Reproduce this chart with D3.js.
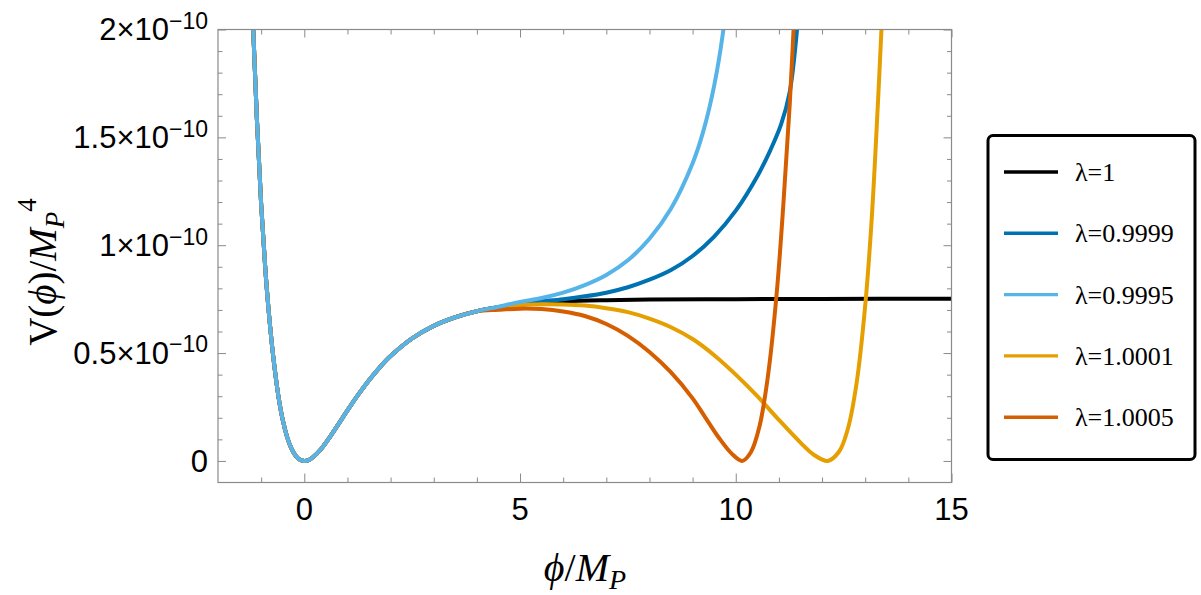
<!DOCTYPE html>
<html>
<head>
<meta charset="utf-8">
<script src="https://cdn.jsdelivr.net/npm/d3@7"></script>
<style>
    body {margin: 0; background: #fff;}
    .tick-label {font-family: 'Liberation Sans', Arial, sans-serif; fill: #000;}
    .serif {font-family: 'Liberation Serif', 'Times New Roman', serif; fill: #000;}
</style>
</head>
<body>
<svg id="chart" width="1201" height="595"></svg>
<script>
// V(phi) in units of 1e-10 M_P^4, phi in units of M_P

const xDomain = [-2, 15];
const yDomain = [-0.1, 2];
const xMajor = [0, 5, 10, 15];
const xMinor = [-1, 1, 2, 3, 4, 6, 7, 8, 9, 11, 12, 13, 14];
const yMajor = [0, 0.5, 1, 1.5, 2];
const yMajorLabels = ['0', '0.5', '1', '1.5', '2'];
const yMinor = [0.1, 0.2, 0.3, 0.4, 0.6, 0.7, 0.8, 0.9, 1.1, 1.2, 1.3, 1.4, 1.6, 1.7, 1.8, 1.9];

const seriesNames = ['λ=1', 'λ=0.9999', 'λ=0.9995', 'λ=1.0001', 'λ=1.0005'];
const seriesColors = ['#000000', '#0072B2', '#56B4E9', '#E69F00', '#D55E00'];

// the well around phi = 0 is the same for every lambda
const basePhi = [-1.3, -1.2, -1.1, -1.0, -0.9, -0.8, -0.7, -0.6, -0.5, -0.4, -0.3, -0.2, -0.1, 0,
    0.1, 0.2, 0.4, 0.6, 0.8, 1.0, 1.25, 1.5, 1.75, 2.0, 2.5, 3.0, 3.5, 4.0];
const baseV = [2.68, 2.08, 1.59, 1.19, 0.88, 0.64, 0.45, 0.30, 0.19, 0.112, 0.058, 0.024, 0.005, 0,
    0.004, 0.017, 0.058, 0.113, 0.173, 0.234, 0.307, 0.374, 0.434, 0.486, 0.568, 0.626, 0.666, 0.694];

// past phi ~ 4 the curves split
const phi1 = [4.5, 5, 6, 7, 8, 10, 12, 15];
const v1 = [0.712, 0.725, 0.739, 0.745, 0.748, 0.75, 0.751, 0.752];

const phi9999 = [4.5, 5, 5.5, 6, 6.5, 7, 7.5, 8, 8.5, 9, 9.5, 10, 10.5, 10.8, 11.05, 11.25, 11.42, 11.55];
const v9999 = [0.713, 0.73, 0.74, 0.75, 0.763, 0.78, 0.805, 0.84, 0.885, 0.95, 1.04, 1.16, 1.32, 1.44, 1.56, 1.71, 2.0, 2.35];

const phi9995 = [4.5, 5, 5.5, 6, 6.5, 7, 7.5, 8, 8.5, 9, 9.25, 9.5, 9.7, 9.85];
const v9995 = [0.715, 0.737, 0.755, 0.78, 0.815, 0.862, 0.93, 1.03, 1.17, 1.38, 1.53, 1.74, 1.98, 2.25];

const phi10001 = [4.5, 5, 5.5, 6, 6.5, 7, 7.5, 8, 8.5, 9, 9.5, 10, 10.5, 11, 11.5, 11.8, 12.13, 12.4, 12.6, 12.8, 13.0, 13.15, 13.3, 13.4];
const v10001 = [0.711, 0.722, 0.726, 0.725, 0.72, 0.708, 0.69, 0.66, 0.62, 0.565, 0.49, 0.4, 0.3, 0.19, 0.085, 0.03, 0, 0.045, 0.15, 0.36, 0.72, 1.12, 1.68, 2.1];

const phi10005 = [4.5, 5, 5.5, 6, 6.5, 7, 7.5, 8, 8.5, 9, 9.3, 9.6, 9.9, 10.15, 10.35, 10.55, 10.75, 10.95, 11.1, 11.25, 11.4];
const v10005 = [0.701, 0.706, 0.704, 0.693, 0.672, 0.635, 0.58, 0.505, 0.41, 0.29, 0.2, 0.11, 0.035, 0, 0.04, 0.16, 0.4, 0.78, 1.18, 1.65, 2.25];

const tails = [[phi1, v1], [phi9999, v9999], [phi9995, v9995], [phi10001, v10001], [phi10005, v10005]];

const series = seriesNames.map((name, i) => {
    let [px, pv] = tails[i];
    let pts = basePhi.map((p, j) => [p, baseV[j]])
        .concat(px.map((p, j) => [p, pv[j]]));
    return {name: name, color: seriesColors[i], points: pts};
});

// draw order: light blue ends up on top where all curves overlap
const drawOrder = [0, 1, 3, 4, 2];

const margin = {left: 218, right: 951.5, top: 29.5, bottom: 482.5};

const svg = d3.select('#chart');

const x = d3.scaleLinear().domain(xDomain).range([margin.left, margin.right]);
const y = d3.scaleLinear().domain(yDomain).range([margin.bottom, margin.top]);

svg.append('defs')
    .append('clipPath')
        .attr('id', 'plot-clip')
        .append('rect')
            .attr('x', margin.left)
            .attr('y', margin.top)
            .attr('width', margin.right - margin.left)
            .attr('height', margin.bottom - margin.top);

// curves
const line = d3.line()
    .x(d => x(d[0]))
    .y(d => y(d[1]))
    .curve(d3.curveCatmullRom.alpha(0.5));

svg.append('g')
    .attr('clip-path', 'url(#plot-clip)')
    .selectAll('path')
    .data(drawOrder.map(i => series[i]))
    .enter()
    .append('path')
        .attr('d', d => line(d.points))
        .style('fill', 'none')
        .style('stroke', d => d.color)
        .style('stroke-width', 4)
        .style('stroke-linejoin', 'round');

// frame with inward ticks on all four sides
const frameColor = '#8a8a8a';

function addTicks (axis, transform) {
    let g = svg.append('g')
        .attr('transform', transform)
        .call(axis);
    g.select('.domain').remove();
    g.selectAll('line').style('stroke', frameColor).style('stroke-width', 1);
    g.selectAll('text').remove();
}

addTicks(d3.axisBottom(x).tickValues(xMajor).tickSize(-9), `translate(0, ${margin.bottom})`);
addTicks(d3.axisBottom(x).tickValues(xMinor).tickSize(-5), `translate(0, ${margin.bottom})`);
addTicks(d3.axisTop(x).tickValues(xMajor).tickSize(-8), `translate(0, ${margin.top})`);
addTicks(d3.axisTop(x).tickValues(xMinor).tickSize(-5), `translate(0, ${margin.top})`);
addTicks(d3.axisLeft(y).tickValues(yMajor).tickSize(-8), `translate(${margin.left}, 0)`);
addTicks(d3.axisLeft(y).tickValues(yMinor).tickSize(-4.5), `translate(${margin.left}, 0)`);
addTicks(d3.axisRight(y).tickValues(yMajor).tickSize(-8), `translate(${margin.right}, 0)`);
addTicks(d3.axisRight(y).tickValues(yMinor).tickSize(-4.5), `translate(${margin.right}, 0)`);

svg.append('rect')
    .attr('x', margin.left)
    .attr('y', margin.top)
    .attr('width', margin.right - margin.left)
    .attr('height', margin.bottom - margin.top)
    .style('fill', 'none')
    .style('stroke', frameColor)
    .style('stroke-width', 1.2);

// tick labels
svg.append('g')
    .selectAll('text')
    .data(xMajor)
    .enter()
    .append('text')
        .attr('class', 'tick-label')
        .attr('x', d => x(d))
        .attr('y', margin.bottom + 37)
        .attr('text-anchor', 'middle')
        .style('font-size', '31px')
        .text(d => d);

let yLabels = svg.append('g')
    .selectAll('text')
    .data(yMajor)
    .enter()
    .append('text')
        .attr('class', 'tick-label')
        .attr('x', margin.left - 10)
        .attr('y', d => y(d))
        .attr('dy', '0.35em')
        .attr('text-anchor', 'end')
        .style('font-size', '31px');

yLabels.each(function (d, i) {
    let t = d3.select(this);
    if (d == 0) {
        t.text('0');
        return;
    }
    t.append('tspan').text(yMajorLabels[i] + '×10');
    t.append('tspan')
        .attr('dy', '-0.5em')
        .style('font-size', '23px')
        .text('−10');
});

// axis titles
let yTitle = svg.append('text')
    .attr('class', 'serif')
    .attr('transform', 'translate(56, 272) rotate(-90)')
    .attr('text-anchor', 'middle')
    .style('font-size', '39px');
yTitle.append('tspan').text('V(');
yTitle.append('tspan').style('font-style', 'italic').text('ϕ');
yTitle.append('tspan').text(')/');
yTitle.append('tspan').style('font-style', 'italic').text('M');
yTitle.append('tspan').style('font-style', 'italic').style('font-size', '27px').attr('dy', '0.3em').text('P');
yTitle.append('tspan').style('font-size', '27px').attr('dy', '-1.05em').text('4');

let xTitle = svg.append('text')
    .attr('class', 'serif')
    .attr('x', 585)
    .attr('y', 581)
    .attr('text-anchor', 'middle')
    .style('font-size', '40px');
xTitle.append('tspan').style('font-style', 'italic').text('ϕ');
xTitle.append('tspan').text('/');
xTitle.append('tspan').style('font-style', 'italic').text('M');
xTitle.append('tspan').style('font-style', 'italic').style('font-size', '28px').attr('dy', '0.3em').text('P');

// legend
const legendTop = 172;
const legendStep = 61.3;

let legend = svg.append('g');

legend.append('rect')
    .attr('x', 988)
    .attr('y', 135.5)
    .attr('width', 207)
    .attr('height', 324)
    .attr('rx', 5)
    .style('fill', '#fff')
    .style('stroke', '#000')
    .style('stroke-width', 3);

let legendRows = legend.selectAll('.legend-row')
    .data(series)
    .enter()
    .append('g')
        .attr('class', 'legend-row')
        .attr('transform', (d, i) => `translate(0, ${legendTop + i * legendStep})`);

legendRows.append('line')
    .attr('x1', 1004)
    .attr('x2', 1058)
    .style('stroke', d => d.color)
    .style('stroke-width', 3.4);

legendRows.append('text')
    .attr('class', 'serif')
    .attr('x', 1075)
    .attr('dy', '0.35em')
    .style('font-size', '26px')
    .text(d => d.name);
</script>
</body>
</html>
